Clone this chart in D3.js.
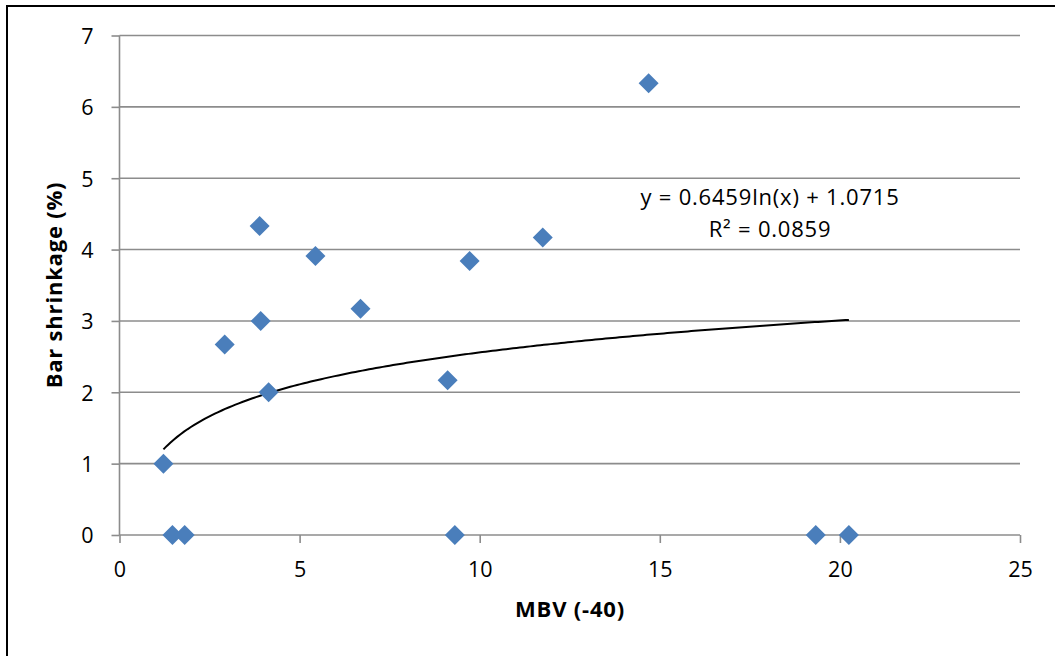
<!DOCTYPE html>
<html>
<head>
<meta charset="utf-8">
<script src="https://cdn.jsdelivr.net/npm/d3@7"></script>
<style>
  html, body { margin: 0; padding: 0; background: #fff; }
  svg { display: block; }
  text { font-family: "Open Sans", Lato, "Liberation Sans", sans-serif; fill: #000; }
</style>
</head>
<body>
<script>
// MBV (-40) vs bar shrinkage measurements
const mbv       = [1.22, 1.47, 1.81, 2.92, 3.89, 3.92, 4.14, 5.44, 6.69, 9.11, 9.31, 9.72, 11.75, 14.69, 19.33, 20.25];
const shrinkage = [1.00, 0.00, 0.00, 2.67, 4.33, 3.00, 2.00, 3.91, 3.17, 2.17, 0.00, 3.84, 4.17, 6.33, 0.00, 0.00];

// Logarithmic trendline coefficients: y = a*ln(x) + b
const trendA = 0.6459;
const trendB = 1.0715;
const rSquared = "0.0859";

const xTicks = [0, 5, 10, 15, 20, 25];
const yTicks = [0, 1, 2, 3, 4, 5, 6, 7];

const W = 1055, H = 656;
const FONT = "'Open Sans', Lato, sans-serif";
const svg = d3.select("body").append("svg").attr("width", W).attr("height", H);

// outer chart frame (left and top edges visible)
svg.append("line").attr("x1", 7).attr("y1", 6).attr("x2", 7).attr("y2", H).attr("stroke", "#000").attr("stroke-width", 2);
svg.append("line").attr("x1", 6).attr("y1", 6).attr("x2", W).attr("y2", 6).attr("stroke", "#000").attr("stroke-width", 2);

const x = d3.scaleLinear().domain([0, 25]).range([119.5, 1020]);
const y = d3.scaleLinear().domain([0, 7]).range([535, 35.5]);

const gridColor = "#8c8c8c";

// horizontal gridlines
svg.append("g").selectAll("line").data(yTicks.filter(d => d > 0)).join("line")
  .attr("x1", x(0)).attr("x2", x(25))
  .attr("y1", d => y(d)).attr("y2", d => y(d))
  .attr("stroke", gridColor).attr("stroke-width", 1.6);

// y axis
const yAxis = svg.append("g").attr("transform", `translate(${x(0)},0)`)
  .call(d3.axisLeft(y).tickValues(yTicks).tickSize(8).tickPadding(18).tickFormat(d3.format("d")));
yAxis.select(".domain").attr("stroke", gridColor).attr("stroke-width", 1.6).attr("d", `M0,${y(7)}V${y(0)}`);
yAxis.selectAll(".tick line").attr("stroke", gridColor).attr("stroke-width", 1.6);
yAxis.selectAll(".tick text").attr("font-size", 21.5).attr("font-family", FONT).attr("fill", "#000").attr("dy", "0.37em");

// x axis
const xAxis = svg.append("g").attr("transform", `translate(0,${y(0)})`)
  .call(d3.axisBottom(x).tickValues(xTicks).tickSize(8).tickPadding(19).tickFormat(d3.format("d")));
xAxis.select(".domain").attr("stroke", gridColor).attr("stroke-width", 1.6).attr("d", `M${x(0)},0H${x(25)}`);
xAxis.selectAll(".tick line").attr("stroke", gridColor).attr("stroke-width", 1.6);
xAxis.selectAll(".tick text").attr("font-size", 21.5).attr("font-family", FONT).attr("fill", "#000");

// trendline over the data's x range
const xmin = d3.min(mbv), xmax = d3.max(mbv);
const trendPts = d3.range(0, 201).map(i => {
  const xv = xmin + (xmax - xmin) * i / 200;
  return [xv, trendA * Math.log(xv) + trendB];
});
svg.append("path").datum(trendPts)
  .attr("fill", "none").attr("stroke", "#000").attr("stroke-width", 2)
  .attr("d", d3.line().x(d => x(d[0])).y(d => y(d[1])));

// diamond markers
const data = mbv.map((v, i) => ({ x: v, y: shrinkage[i] }));
svg.append("g").selectAll("path").data(data).join("path")
  .attr("transform", d => `translate(${x(d.x)},${y(d.y)})`)
  .attr("d", "M0,-10L10,0L0,10L-10,0Z")
  .attr("fill", "#4a7ebb");

// trendline equation
svg.append("text").attr("x", 770).attr("y", 205).attr("text-anchor", "middle")
  .attr("font-size", 22).attr("letter-spacing", 0.8)
  .text(`y = ${trendA}ln(x) + ${trendB}`);
svg.append("text").attr("x", 770).attr("y", 237).attr("text-anchor", "middle")
  .attr("font-size", 22).attr("letter-spacing", 0.8)
  .text(`R² = ${rSquared}`);

// axis titles
svg.append("text").attr("x", 570).attr("y", 617).attr("text-anchor", "middle")
  .attr("font-size", 22).attr("font-weight", "bold").attr("letter-spacing", 0.8).text("MBV (-40)");
svg.append("text").attr("transform", `translate(62,285) rotate(-90)`).attr("text-anchor", "middle")
  .attr("font-size", 22).attr("font-weight", "bold").attr("letter-spacing", 0.8).text("Bar shrinkage (%)");
</script>
</body>
</html>
